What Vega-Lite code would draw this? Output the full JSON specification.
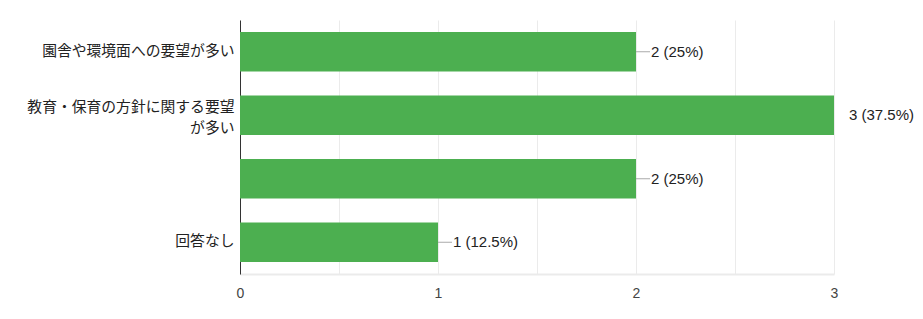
{
  "$schema": "https://vega.github.io/schema/vega-lite/v6.json",
  "width": 594,
  "height": 254,
  "autosize": "none",
  "padding": {"left": 240, "top": 20, "right": 89, "bottom": 45},
  "background": "white",
  "config": {
    "view": {"stroke": null},
    "font": "Liberation Sans, Arial, Noto Sans CJK JP",
    "axis": {"labelFont": "Liberation Sans, Arial, Noto Sans CJK JP"}
  },
  "data": {
    "values": [
      {"category": "園舎や環境面への要望が多い", "count": 2, "label": "2 (25%)"},
      {"category": "教育・保育の方針に関する要望が多い", "count": 3, "label": "3 (37.5%)"},
      {"category": " ", "count": 2, "label": "2 (25%)"},
      {"category": "回答なし", "count": 1, "label": "1 (12.5%)"}
    ]
  },
  "encoding": {
    "y": {
      "field": "category",
      "type": "nominal",
      "sort": null,
      "title": null,
      "scale": {"paddingInner": 0.375, "paddingOuter": 0.1875},
      "axis": {
        "domainColor": "#333333",
        "domainWidth": 1,
        "ticks": false,
        "labelPadding": 6,
        "labelFontSize": 14.8,
        "labelColor": "#222222",
        "labelLimit": 300,
        "labelLineHeight": 21,
        "labelOffset": {"condition": {"test": "datum.value == '教育・保育の方針に関する要望が多い'", "value": -7}, "value": 0},
        "labelExpr": "datum.label == '教育・保育の方針に関する要望が多い' ? ['教育・保育の方針に関する要望', 'が多い'] : datum.label"
      }
    }
  },
  "layer": [
    {
      "mark": {"type": "bar", "color": "#4caf50"},
      "encoding": {
        "x": {
          "field": "count",
          "type": "quantitative",
          "title": null,
          "scale": {"domain": [0, 3], "nice": false},
          "axis": {
            "values": [0, 0.5, 1, 1.5, 2, 2.5, 3],
            "labelExpr": "datum.value % 1 == 0 ? format(datum.value, 'd') : ''",
            "grid": true,
            "gridColor": "#ebebeb",
            "domainColor": "#ebebeb",
            "domainWidth": 2,
            "ticks": false,
            "labelPadding": 12,
            "labelFontSize": 14,
            "labelColor": "#444444",
            "labelFlush": false
          }
        }
      }
    },
    {
      "mark": {"type": "rule", "color": "#aaaaaa", "x2Offset": 14, "clip": true},
      "encoding": {
        "x": {"field": "count", "type": "quantitative"},
        "x2": {"field": "count"}
      }
    },
    {
      "mark": {"type": "text", "align": "left", "baseline": "middle", "dx": 15, "fontSize": 15, "color": "#222222"},
      "encoding": {
        "x": {"field": "count", "type": "quantitative"},
        "text": {"field": "label"}
      }
    }
  ]
}
